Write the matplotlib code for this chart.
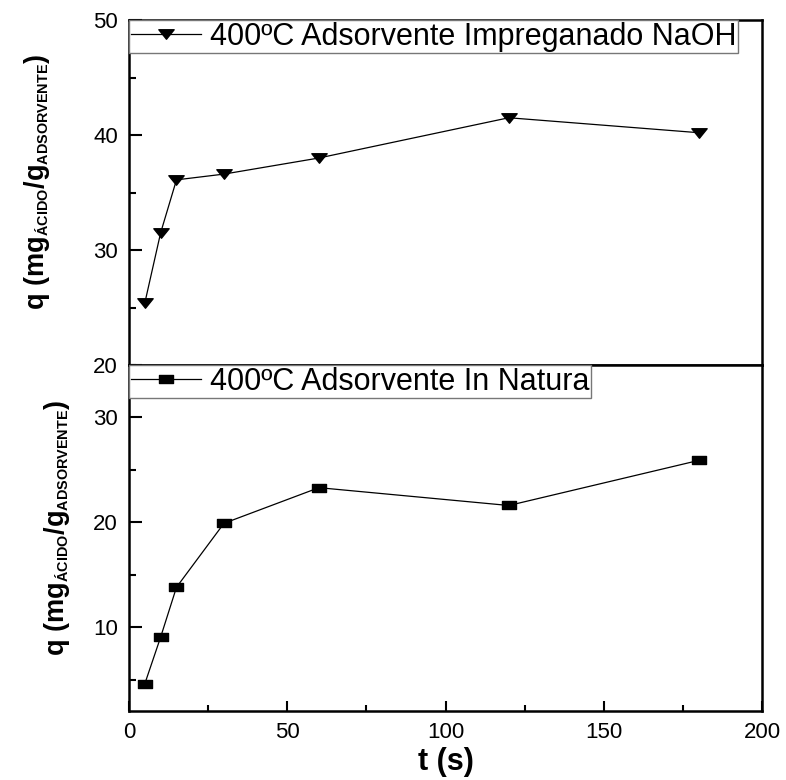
import matplotlib
matplotlib.use("Agg")
import matplotlib.pyplot as plt
import matplotlib._mathtext as mathtext_internal
from matplotlib import font_manager
from matplotlib.path import Path
from matplotlib.ticker import MultipleLocator

# dados
t_s = [5, 10, 15, 30, 60, 120, 180]
q_naoh = [25.4, 31.5, 36.1, 36.6, 38.0, 41.5, 40.2]
q_natura = [4.6, 9.05, 13.8, 19.9, 23.3, 21.6, 25.9]

label_naoh = "400ºC Adsorvente Impreganado NaOH"
label_natura = "400ºC Adsorvente In Natura"

plt.rcParams['font.family'] = ['Liberation Sans', 'DejaVu Sans']

# fonte estreita para o eixo y, se existir
try:
    font_manager.findfont(font_manager.FontProperties(family='Liberation Sans Narrow'),
                          fallback_to_default=False)
    narrow = 'Liberation Sans Narrow'
except Exception:
    narrow = 'Liberation Sans'
plt.rcParams['mathtext.fontset'] = 'custom'
plt.rcParams['mathtext.rm'] = narrow + ':bold'
plt.rcParams['mathtext.bf'] = narrow + ':bold'
plt.rcParams['mathtext.it'] = narrow + ':bold'
# subscritos menores que o padrao (como no Origin)
mathtext_internal.SHRINK_FACTOR = 0.53

# marcadores achatados
tri = Path([(-1, 0.62), (1, 0.62), (0, -0.62), (-1, 0.62)],
           [Path.MOVETO, Path.LINETO, Path.LINETO, Path.CLOSEPOLY])
sq = Path([(-1, -0.62), (1, -0.62), (1, 0.62), (-1, 0.62), (-1, -0.62)],
          [Path.MOVETO, Path.LINETO, Path.LINETO, Path.LINETO, Path.CLOSEPOLY])

fig = plt.figure(figsize=(7.86, 7.80), dpi=100)
ax1 = fig.add_axes([129 / 786, 1 - 365 / 780, 633 / 786, 345 / 780])
ax2 = fig.add_axes([129 / 786, 1 - 711 / 780, 633 / 786, 346 / 780])

ylabel = r'$\mathbf{q\ (mg_{ÁCIDO}/g_{ADSORVENTE})}$'

for ax, y, mk, ms, lab, ylim in [
        (ax1, q_naoh, tri, 11, label_naoh, (20, 50)),
        (ax2, q_natura, sq, 10, label_natura, (2, 35))]:
    ax.plot(t_s, y, color='black', lw=0.9, marker=mk, markersize=ms,
            markerfacecolor='black', markeredgecolor='black', label=lab)
    ax.set_xlim(0, 200)
    ax.set_ylim(*ylim)
    ax.yaxis.set_major_locator(MultipleLocator(10))
    ax.yaxis.set_minor_locator(MultipleLocator(5))
    ax.xaxis.set_major_locator(MultipleLocator(50))
    ax.xaxis.set_minor_locator(MultipleLocator(25))
    for s in ax.spines.values():
        s.set_linewidth(1.8)
    ax.tick_params(axis='y', which='major', direction='in', length=9, width=1.5,
                   labelsize=16, pad=8, right=False)
    ax.tick_params(axis='y', which='minor', direction='in', length=5, width=1.5, right=False)
    ax.tick_params(axis='x', which='major', direction='in', length=7, width=1.5,
                   labelsize=16, pad=8, top=False)
    ax.tick_params(axis='x', which='minor', direction='in', length=4, width=1.5, top=False)
    leg = ax.legend(loc='upper left', borderaxespad=0, fontsize=22, fancybox=False,
                    framealpha=1, edgecolor='#777777', handlelength=2.3,
                    handletextpad=0.3, borderpad=0.05)
    leg.get_frame().set_linewidth(1.0)
    ax.set_ylabel(ylabel, fontsize=19.5)

ax1.tick_params(axis='x', which='both', bottom=False, labelbottom=False)
ax1.yaxis.set_label_coords(-0.122, 0.53)
ax2.yaxis.set_label_coords(-0.090, 0.53)
ax2.set_xlabel('t (s)', fontsize=22, fontweight='bold', labelpad=3)

plt.savefig('out.png', dpi=100, facecolor='w')
